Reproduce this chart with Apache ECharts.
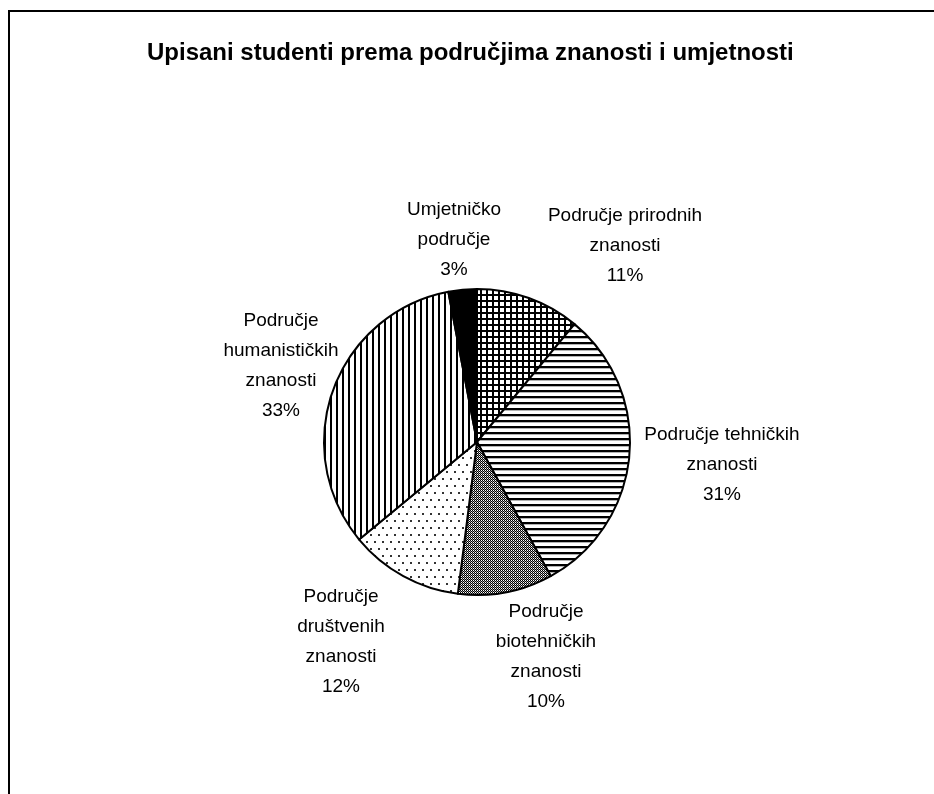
<!DOCTYPE html>
<html>
<head>
<meta charset="utf-8">
<script src="https://cdn.jsdelivr.net/npm/echarts@6/dist/echarts.min.js"></script>
<style>
  html, body { margin: 0; padding: 0; background: #fff; }
  #chart { width: 934px; height: 794px; }
</style>
</head>
<body>
<div id="chart"></div>
<script>
// podaci
const categories = [
  'Područje prirodnih\nznanosti',
  'Područje tehničkih\nznanosti',
  'Područje\nbiotehničkih\nznanosti',
  'Područje\ndruštvenih\nznanosti',
  'Područje\nhumanističkih\nznanosti',
  'Umjetničko\npodručje'
]
const shares = [11, 31, 10, 12, 33, 3]

// pozicije natpisa (središte bloka teksta)
const labelPos = [
  [625, 246],
  [722, 465],
  [546, 657],
  [341, 642],
  [281, 366],
  [454, 240]
]

// uzorci ispune
function tile(w, h, draw) {
  let c = document.createElement('canvas')
  c.width = w
  c.height = h
  let ctx = c.getContext('2d')
  ctx.fillStyle = '#fff'
  ctx.fillRect(0, 0, w, h)
  draw(ctx)
  return { image: c, repeat: 'repeat' }
}

const patterns = [
  // mreža
  tile(6, 6, ctx => {
    ctx.fillStyle = '#000'
    ctx.fillRect(0, 0, 6, 2)
    ctx.fillRect(0, 0, 2, 6)
  }),
  // vodoravne crte
  tile(6, 6, ctx => {
    ctx.fillStyle = '#000'
    ctx.fillRect(0, 0, 6, 2.3)
  }),
  // gusta siva
  tile(2, 2, ctx => {
    ctx.fillStyle = '#000'
    ctx.fillRect(0, 0, 1, 1)
    ctx.fillRect(1, 1, 1, 1)
    ctx.fillStyle = '#999'
    ctx.fillRect(0, 1, 1, 1)
  }),
  // točkice
  tile(8, 14, ctx => {
    ctx.fillStyle = '#333'
    ctx.fillRect(2, 2, 2, 2)
    ctx.fillRect(6, 9, 2, 2)
  }),
  // okomite crte
  tile(6, 6, ctx => {
    ctx.fillStyle = '#000'
    ctx.fillRect(0, 0, 2, 6)
  }),
  '#000'
]

let myChart = echarts.init(document.getElementById('chart'))

let option = {
  backgroundColor: '#fff',
  animation: false,
  title: {
    text: 'Upisani studenti prema područjima znanosti i umjetnosti',
    left: 142,
    top: 36,
    textStyle: {
      fontFamily: 'Liberation Sans',
      fontSize: 24,
      fontWeight: 'bold',
      color: '#000'
    }
  },
  graphic: [
    {
      type: 'rect',
      shape: { x: 9, y: 11, width: 1000, height: 1000 },
      style: { fill: 'none', stroke: '#000', lineWidth: 2 },
      silent: true
    }
  ],
  series: [
    {
      type: 'pie',
      center: [477, 442],
      radius: 153,
      startAngle: 90,
      clockwise: true,
      percentPrecision: 0,
      data: categories.map((name, i) => ({
        name: name,
        value: shares[i],
        itemStyle: { color: patterns[i] }
      })),
      itemStyle: {
        borderColor: '#000',
        borderWidth: 2
      },
      label: {
        show: true,
        position: 'outside',
        formatter: '{b}\n{d}%',
        fontFamily: 'Liberation Sans',
        fontSize: 19,
        lineHeight: 30,
        color: '#000',
        align: 'center'
      },
      labelLine: { show: false },
      labelLayout: params => ({
        x: labelPos[params.dataIndex][0],
        y: labelPos[params.dataIndex][1],
        align: 'center',
        verticalAlign: 'middle'
      })
    }
  ]
}

myChart.setOption(option)
</script>
</body>
</html>
